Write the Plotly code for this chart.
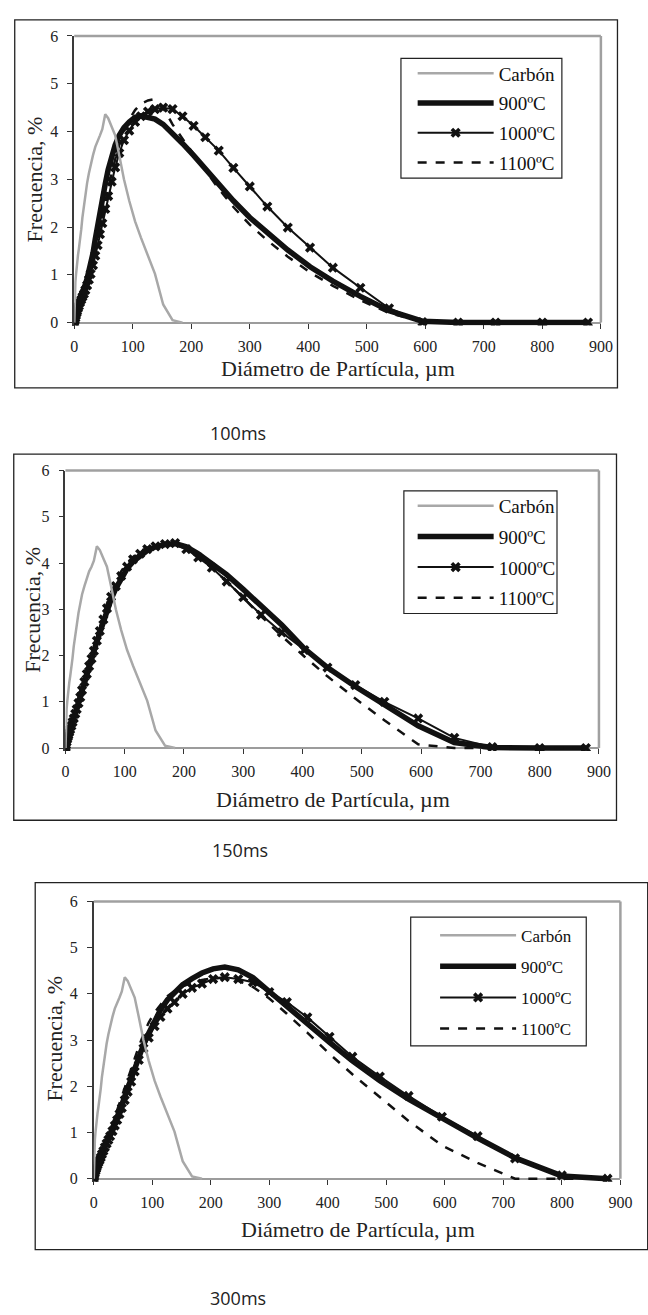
import plotly.graph_objects as go

# ---------------- data ----------------
diam = [0.1, 0.5, 1, 2, 3, 4, 5, 6.5, 8, 10, 12, 14, 16.5, 19, 22, 25, 28, 32, 36, 40,
        44, 48, 53, 58, 64, 70, 77, 85, 94, 104, 114, 126, 138, 152, 168, 185, 204, 224,
        247, 272, 300, 330, 365, 403, 442, 489, 538, 595, 656, 720, 800, 878]

carbon = [0.0, 0.3, 0.55, 0.85, 1.0, 1.15, 1.28, 1.42, 1.55, 1.72, 1.95, 2.2, 2.45, 2.65,
          2.92, 3.12, 3.32, 3.5, 3.68, 3.82, 3.92, 4.05, 4.36, 4.28, 4.1, 3.92, 3.5, 3.0,
          2.55, 2.12, 1.78, 1.42, 1.02, 0.38, 0.05, 0.0]

t100_900 = [0.0, 0.08, 0.14, 0.2, 0.27, 0.32, 0.36, 0.4, 0.44, 0.5, 0.55, 0.62, 0.7, 0.8,
            0.92, 1.05, 1.2, 1.45, 1.75, 2.05, 2.35, 2.6, 2.9, 3.2, 3.5, 3.72, 3.92, 4.08,
            4.2, 4.3, 4.33, 4.3, 4.26, 4.15, 3.97, 3.75, 3.5, 3.22, 2.9, 2.55, 2.2, 1.88,
            1.52, 1.17, 0.87, 0.55, 0.25, 0.03, 0.0, 0.0, 0.0, 0.0]
t100_1000 = [0.0, 0.03, 0.06, 0.1, 0.15, 0.2, 0.24, 0.3, 0.35, 0.42, 0.48, 0.54, 0.6, 0.68,
             0.78, 0.9, 1.02, 1.2, 1.4, 1.62, 1.85, 2.08, 2.38, 2.65, 2.95, 3.25, 3.55, 3.82,
             4.02, 4.2, 4.32, 4.42, 4.47, 4.5, 4.47, 4.32, 4.12, 3.88, 3.6, 3.24, 2.85, 2.43,
             1.99, 1.57, 1.15, 0.73, 0.3, 0.01, 0.0, 0.0, 0.0, 0.0]
t100_1100 = [0.0, 0.04, 0.08, 0.13, 0.19, 0.24, 0.28, 0.33, 0.38, 0.44, 0.5, 0.56, 0.63, 0.72,
             0.83, 0.95, 1.08, 1.28, 1.5, 1.74, 1.98, 2.22, 2.52, 2.82, 3.12, 3.42, 3.72, 4.0,
             4.25, 4.45, 4.58, 4.65, 4.68, 4.5, 4.15, 3.85, 3.52, 3.18, 2.8, 2.42, 2.05, 1.72,
             1.38, 1.05, 0.77, 0.47, 0.2, 0.02, 0.0, 0.0, 0.0, 0.0]

t150_900 = [0.0, 0.06, 0.11, 0.17, 0.23, 0.28, 0.32, 0.37, 0.42, 0.5, 0.58, 0.66, 0.75, 0.85,
            0.98, 1.12, 1.27, 1.45, 1.62, 1.78, 1.94, 2.1, 2.3, 2.5, 2.75, 2.98, 3.22, 3.45,
            3.68, 3.88, 4.03, 4.17, 4.27, 4.35, 4.4, 4.42, 4.35, 4.2, 4.0, 3.75, 3.43, 3.07,
            2.66, 2.15, 1.74, 1.33, 0.95, 0.48, 0.12, 0.01, 0.0, 0.0]
t150_1000 = [0.0, 0.03, 0.07, 0.13, 0.19, 0.24, 0.28, 0.34, 0.4, 0.48, 0.56, 0.64, 0.74, 0.84,
             0.97, 1.1, 1.25, 1.43, 1.6, 1.77, 1.93, 2.1, 2.32, 2.53, 2.78, 3.02, 3.27, 3.5,
             3.72, 3.92, 4.08, 4.2, 4.3, 4.36, 4.41, 4.43, 4.3, 4.12, 3.9, 3.6, 3.26, 2.88,
             2.5, 2.12, 1.74, 1.36, 1.0, 0.64, 0.22, 0.02, 0.0, 0.0]
t150_1100 = [0.0, 0.04, 0.09, 0.16, 0.22, 0.27, 0.31, 0.37, 0.43, 0.51, 0.6, 0.68, 0.78, 0.89,
             1.02, 1.16, 1.31, 1.5, 1.68, 1.85, 2.02, 2.18, 2.4, 2.62, 2.88, 3.12, 3.37, 3.6,
             3.82, 4.0, 4.13, 4.25, 4.33, 4.38, 4.42, 4.4, 4.3, 4.12, 3.9, 3.6, 3.25, 2.85,
             2.42, 1.98, 1.55, 1.07, 0.6, 0.08, 0.0, 0.0, 0.0, 0.0]

t300_900 = [0.0, 0.05, 0.1, 0.17, 0.22, 0.27, 0.31, 0.36, 0.4, 0.45, 0.52, 0.6, 0.68, 0.76,
            0.84, 0.9, 0.97, 1.08, 1.2, 1.33, 1.46, 1.6, 1.78, 1.97, 2.18, 2.4, 2.65, 2.9,
            3.15, 3.42, 3.65, 3.87, 4.03, 4.2, 4.33, 4.45, 4.54, 4.58, 4.52, 4.35, 4.05, 3.72,
            3.36, 2.95, 2.55, 2.12, 1.72, 1.3, 0.88, 0.45, 0.06, 0.0]
t300_1000 = [0.0, 0.03, 0.07, 0.12, 0.17, 0.21, 0.25, 0.3, 0.35, 0.4, 0.46, 0.53, 0.6, 0.68,
             0.76, 0.84, 0.92, 1.03, 1.15, 1.27, 1.4, 1.53, 1.7, 1.88, 2.1, 2.32, 2.57, 2.82,
             3.05, 3.3, 3.5, 3.68, 3.82, 4.0, 4.13, 4.22, 4.32, 4.36, 4.32, 4.25, 4.04, 3.82,
             3.49, 3.07, 2.64, 2.21, 1.79, 1.34, 0.92, 0.44, 0.07, 0.0]
t300_1100 = [0.0, 0.05, 0.1, 0.16, 0.21, 0.26, 0.3, 0.35, 0.4, 0.46, 0.53, 0.6, 0.68, 0.77,
             0.86, 0.94, 1.02, 1.17, 1.33, 1.48, 1.64, 1.78, 1.96, 2.15, 2.38, 2.6, 2.86, 3.12,
             3.38, 3.6, 3.77, 3.95, 4.06, 4.16, 4.24, 4.3, 4.34, 4.35, 4.28, 4.15, 3.9, 3.57,
             3.16, 2.7, 2.26, 1.77, 1.25, 0.72, 0.34, 0.0, 0.0, 0.0]

series_names = ["Carbón", "900ºC", "1000ºC", "1100ºC"]
x_ticks = [0, 100, 200, 300, 400, 500, 600, 700, 800, 900]
y_ticks = [0, 1, 2, 3, 4, 5, 6]
panel_labels = ["100ms", "150ms", "300ms"]
x_title = "Diámetro de Partícula, µm"
y_title = "Frecuencia, %"

panel_data = [
    (t100_900, t100_1000, t100_1100),
    (t150_900, t150_1000, t150_1100),
    (t300_900, t300_1000, t300_1100),
]

# ---------------- layout geometry (pixels) ----------------
W, H = 648, 1315
SERIF = "Liberation Serif, Times New Roman, serif"


def fx(p):
    return p / W


def fy(p):
    return 1 - p / H


geo = [
    dict(L=72, R=612, T=28.3, B=318, box=(11, 12, 629, 384), leg=(407, 51, 572, 172),
         legpos=(419, 47), gap=2, xt=(342, 364), yt=(31, 173), lab=(240, 430),
         legfont=19, tickfont=16, titlefont=22),
    dict(L=63, R=610, T=467.5, B=748, box=(10, 451, 628, 821), leg=(410, 488, 567, 612),
         legpos=(419, 484), gap=3, xt=(337, 800), yt=(29, 608), lab=(242, 851),
         legfont=19, tickfont=16, titlefont=22),
    dict(L=92, R=632, T=903, B=1183.3, box=(32, 884, 660, 1255), leg=(417, 919, 597, 1049),
         legpos=(442, 919.5), gap=6, xt=(363, 1235), yt=(52, 1042), lab=(240, 1304),
         legfont=17, tickfont=16, titlefont=22),
]

fig = go.Figure()
shapes = []
annotations = []
PAD = 3  # px below zero so the thick line at 0 is not clipped

for i, (g, (s900, s1000, s1100)) in enumerate(zip(geo, panel_data)):
    k = "" if i == 0 else str(i + 1)
    xa, ya = "x" + k, "y" + k
    leg = "legend" + k
    ppu = (g["B"] - g["T"]) / 6.0

    fig.add_trace(go.Scatter(x=diam, y=s900, mode="lines", name=series_names[1],
                             line=dict(color="#111111", width=5.5), xaxis=xa, yaxis=ya,
                             legend=leg, legendgroup=f"b{i}", legendrank=2))
    fig.add_trace(go.Scatter(x=diam, y=s1000, mode="lines+markers", name=series_names[2],
                             line=dict(color="#111111", width=2),
                             marker=dict(symbol="x", size=9, color="#111111"),
                             xaxis=xa, yaxis=ya, legend=leg, legendgroup=f"c{i}", legendrank=3))
    fig.add_trace(go.Scatter(x=diam, y=s1100, mode="lines", name=series_names[3],
                             line=dict(color="#111111", width=2.5, dash="dash"),
                             xaxis=xa, yaxis=ya, legend=leg, legendgroup=f"d{i}", legendrank=4))
    fig.add_trace(go.Scatter(x=diam[:len(carbon)], y=carbon, mode="lines", name=series_names[0],
                             line=dict(color="#a8a8a8", width=2.5), xaxis=xa, yaxis=ya,
                             legend=leg, legendgroup=f"a{i}", legendrank=1))

    axis_common = dict(showgrid=False, zeroline=False, ticks="outside", ticklen=5,
                       tickcolor="#333333", tickwidth=1, layer="below traces",
                       tickfont=dict(family=SERIF, size=g["tickfont"], color="#222222"))
    fig.layout["xaxis" + k] = dict(
        axis_common, domain=[fx(g["L"]), fx(g["R"])], range=[0, 900],
        tickvals=x_ticks, ticktext=[str(v) for v in x_ticks],
        anchor="free", position=fy(g["B"]), showline=True, linecolor="#9c9c9c", linewidth=2,
        ticklabelstandoff=4)
    fig.layout["yaxis" + k] = dict(
        axis_common, domain=[fy(g["B"] + PAD), fy(g["T"])], range=[-PAD / ppu, 6],
        tickvals=y_ticks, ticktext=[str(v) for v in y_ticks],
        anchor=xa, showline=True, linecolor="#3a3a3a", linewidth=1.5,
        ticklabelstandoff=6)

    # gray frame (top and right) of the plot area
    shapes.append(dict(type="line", xref="paper", yref="paper", x0=fx(g["L"]), x1=fx(g["R"]),
                       y0=fy(g["T"]), y1=fy(g["T"]), line=dict(color="#a0a0a0", width=2.5)))
    shapes.append(dict(type="line", xref="paper", yref="paper", x0=fx(g["R"]), x1=fx(g["R"]),
                       y0=fy(g["T"]), y1=fy(g["B"]), line=dict(color="#a0a0a0", width=2.5)))
    # outer chart border
    bx0, by0, bx1, by1 = g["box"]
    shapes.append(dict(type="rect", xref="paper", yref="paper", x0=fx(bx0), x1=fx(bx1),
                       y0=fy(by1), y1=fy(by0), line=dict(color="#222222", width=1.3),
                       fillcolor="rgba(0,0,0,0)"))
    # legend box
    lx0, ly0, lx1, ly1 = g["leg"]
    shapes.append(dict(type="rect", xref="paper", yref="paper", x0=fx(lx0), x1=fx(lx1),
                       y0=fy(ly1), y1=fy(ly0), line=dict(color="#222222", width=1.2),
                       fillcolor="white", layer="below"))

    fig.layout[leg] = dict(
        x=fx(g["legpos"][0]), y=fy(g["legpos"][1]), xanchor="left", yanchor="top",
        bgcolor="rgba(0,0,0,0)", borderwidth=0, itemwidth=76, traceorder="grouped",
        tracegroupgap=g["gap"], font=dict(family=SERIF, size=g["legfont"], color="#111111"))

    annotations.append(dict(text=x_title, xref="paper", yref="paper", x=fx(g["xt"][0]),
                            y=fy(g["xt"][1]), xanchor="center", yanchor="middle",
                            showarrow=False,
                            font=dict(family=SERIF, size=g["titlefont"], color="#222222")))
    annotations.append(dict(text=y_title, xref="paper", yref="paper", x=fx(g["yt"][0]),
                            y=fy(g["yt"][1]), xanchor="center", yanchor="middle",
                            textangle=-90, showarrow=False,
                            font=dict(family=SERIF, size=g["titlefont"], color="#222222")))
    annotations.append(dict(text=panel_labels[i], xref="paper", yref="paper",
                            x=fx(g["lab"][0]), y=fy(g["lab"][1]), xanchor="center",
                            yanchor="middle", showarrow=False,
                            font=dict(family="Open Sans", size=18, color="#222222")))

fig.update_layout(width=W, height=H, autosize=False, margin=dict(l=0, r=0, t=0, b=0),
                  paper_bgcolor="white", plot_bgcolor="white", showlegend=True,
                  shapes=shapes, annotations=annotations)

fig.write_html("out.html")
